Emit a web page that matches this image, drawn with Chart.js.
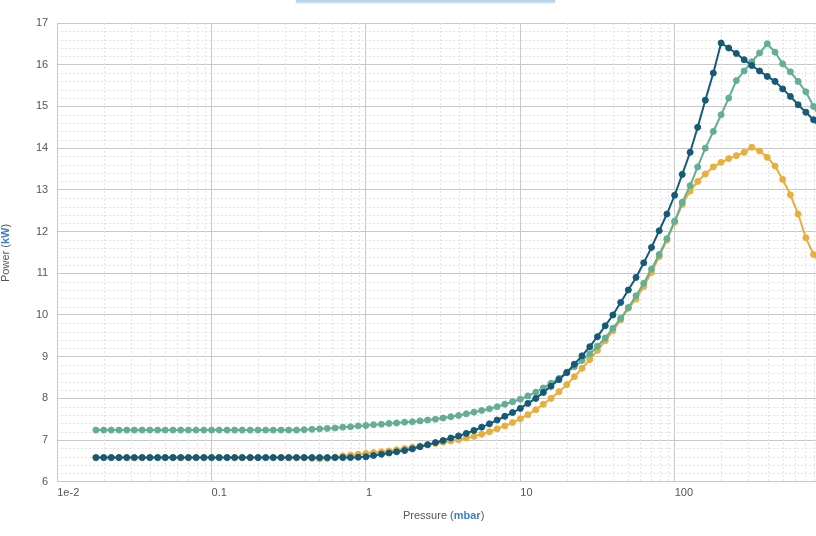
<!DOCTYPE html>
<html>
<head>
<meta charset="utf-8">
<script src="https://cdn.jsdelivr.net/npm/chart.js@4.4.0/dist/chart.umd.min.js"></script>
<style>
  html, body { margin: 0; padding: 0; background: #fff; overflow: hidden; }
  #wrap { position: absolute; left: 0; top: 0; width: 840px; height: 536px; }
  #bar { position: absolute; left: 296px; top: 0; width: 259px; height: 2px; background: #b7d6f0; box-shadow: 0 1px 2px rgba(90,150,210,0.45); }
</style>
</head>
<body>
<div id="wrap"><canvas id="powerChart" width="840" height="536"></canvas></div>
<div id="bar"></div>
<script>
// pressure in mbar
var pressure = [
    0.0178, 0.02, 0.0224, 0.0251, 0.0282, 0.0316, 0.0355, 0.0398, 0.0447, 0.0501,
    0.0562, 0.0631, 0.0708, 0.0794, 0.0891, 0.1, 0.112, 0.126, 0.141, 0.158,
    0.178, 0.2, 0.224, 0.251, 0.282, 0.316, 0.355, 0.398, 0.447, 0.501,
    0.562, 0.631, 0.708, 0.794, 0.891, 1, 1.12, 1.26, 1.41, 1.58,
    1.78, 2, 2.24, 2.51, 2.82, 3.16, 3.55, 3.98, 4.47, 5.01,
    5.62, 6.31, 7.08, 7.94, 8.91, 10, 11.2, 12.6, 14.1, 15.8,
    17.8, 20, 22.4, 25.1, 28.2, 31.6, 35.5, 39.8, 44.7, 50.1,
    56.2, 63.1, 70.8, 79.4, 89.1, 100, 112, 126, 141, 158,
    178, 200, 224, 251, 282, 316, 355, 398, 447, 501,
    562, 631, 708, 794, 891
];

// power in kW
var pumpBlue = [
    6.58, 6.58, 6.58, 6.58, 6.58, 6.58, 6.58, 6.58, 6.58, 6.58,
    6.58, 6.58, 6.58, 6.58, 6.58, 6.58, 6.58, 6.58, 6.58, 6.58,
    6.58, 6.58, 6.58, 6.58, 6.58, 6.58, 6.58, 6.58, 6.58, 6.58,
    6.58, 6.58, 6.58, 6.58, 6.59, 6.60, 6.63, 6.66, 6.69, 6.72,
    6.75, 6.79, 6.84, 6.89, 6.94, 6.99, 7.05, 7.10, 7.16, 7.23,
    7.31, 7.39, 7.48, 7.57, 7.66, 7.76, 7.88, 8.00, 8.14, 8.29,
    8.45, 8.62, 8.82, 9.02, 9.24, 9.48, 9.74, 10.0, 10.3, 10.6,
    10.9, 11.25, 11.62, 12.02, 12.42, 12.87, 13.37, 13.9, 14.5, 15.15,
    15.8, 16.52, 16.4, 16.27, 16.12, 15.98, 15.85, 15.72, 15.6, 15.42,
    15.24, 15.04, 14.86, 14.68, 14.45
];

var pumpTeal = [
    7.24, 7.24, 7.24, 7.24, 7.24, 7.24, 7.24, 7.24, 7.24, 7.24,
    7.24, 7.24, 7.24, 7.24, 7.24, 7.24, 7.24, 7.24, 7.24, 7.24,
    7.24, 7.24, 7.24, 7.24, 7.24, 7.24, 7.24, 7.25, 7.26, 7.27,
    7.28, 7.29, 7.31, 7.32, 7.34, 7.35, 7.37, 7.38, 7.40, 7.41,
    7.43, 7.44, 7.46, 7.48, 7.50, 7.53, 7.56, 7.59, 7.63, 7.67,
    7.71, 7.75, 7.80, 7.86, 7.92, 7.98, 8.06, 8.15, 8.25, 8.36,
    8.48, 8.62, 8.76, 8.91, 9.07, 9.25, 9.45, 9.68, 9.92, 10.18,
    10.46, 10.76, 11.1, 11.45, 11.83, 12.25, 12.7, 13.1, 13.55, 14.0,
    14.4, 14.8, 15.2, 15.62, 15.85, 16.07, 16.28, 16.5, 16.3, 16.02,
    15.83, 15.6, 15.35, 15.0, 14.7
];

var pumpOrange = [
    6.58, 6.58, 6.58, 6.58, 6.58, 6.58, 6.58, 6.58, 6.58, 6.58,
    6.58, 6.58, 6.58, 6.58, 6.58, 6.58, 6.58, 6.58, 6.58, 6.58,
    6.58, 6.58, 6.58, 6.58, 6.58, 6.58, 6.58, 6.58, 6.56, 6.55,
    6.56, 6.59, 6.62, 6.64, 6.66, 6.68, 6.70, 6.72, 6.74, 6.77,
    6.80, 6.83, 6.86, 6.89, 6.92, 6.95, 6.98, 7.01, 7.05, 7.09,
    7.14, 7.20, 7.27, 7.34, 7.42, 7.51, 7.61, 7.73, 7.86, 8.00,
    8.16, 8.33, 8.52, 8.72, 8.93, 9.15, 9.38, 9.62, 9.88, 10.16,
    10.38, 10.68, 11.02, 11.4, 11.8, 12.22, 12.65, 12.97, 13.2, 13.38,
    13.55, 13.66, 13.75, 13.82, 13.9, 14.02, 13.93, 13.78, 13.57, 13.25,
    12.88, 12.42, 11.85, 11.45, 11.2
];

var xTickLabels = { "0.01": "1e-2", "0.1": "0.1", "1": "1", "10": "10", "100": "100" };

function toPoints(values) {
    return pressure.map(function (p, i) { return { x: p, y: values[i] }; });
}

function isDecade(v) {
    var l = Math.log10(v);
    return Math.abs(l - Math.round(l)) < 1e-6;
}

// dotted minor grid + axis titles with the coloured unit
var extras = {
    id: "extras",
    beforeDatasetsDraw: function (chart) {
        var ctx = chart.ctx, a = chart.chartArea, x = chart.scales.x, y = chart.scales.y;
        ctx.save();
        ctx.strokeStyle = "#e2e2e2";
        ctx.lineWidth = 1;
        ctx.setLineDash([2, 2]);
        ctx.beginPath();
        for (var e = -2; e < 3; e++) {
            for (var m = 2; m < 10; m++) {
                var px = Math.round(x.getPixelForValue(m * Math.pow(10, e))) + 0.5;
                if (px >= a.right) continue;
                ctx.moveTo(px, a.top);
                ctx.lineTo(px, a.bottom);
            }
        }
        for (var v = 6; v < 17; v++) {
            for (var s = 1; s < 5; s++) {
                var py = Math.round(y.getPixelForValue(v + s * 0.2)) + 0.5;
                ctx.moveTo(a.left, py);
                ctx.lineTo(a.right, py);
            }
        }
        ctx.stroke();
        ctx.restore();
    },
    afterDraw: function (chart) {
        var ctx = chart.ctx;
        ctx.save();
        ctx.textBaseline = "middle";
        ctx.textAlign = "left";
        var parts = [["Pressure (", "#555", ""], ["mbar", "#3f82c4", "bold "], [")", "#555", ""]];
        var cx = 403;
        parts.forEach(function (p) {
            ctx.font = p[2] + "11px 'Liberation Sans', Arial, sans-serif";
            ctx.fillStyle = p[1];
            ctx.fillText(p[0], cx, 516);
            cx += ctx.measureText(p[0]).width;
        });
        ctx.translate(6, 282);
        ctx.rotate(-Math.PI / 2);
        var parts2 = [["Power (", "#555", ""], ["kW", "#3f82c4", "bold "], [")", "#555", ""]];
        var cy = 0;
        parts2.forEach(function (p) {
            ctx.font = p[2] + "11px 'Liberation Sans', Arial, sans-serif";
            ctx.fillStyle = p[1];
            ctx.fillText(p[0], cy, 0);
            cy += ctx.measureText(p[0]).width;
        });
        ctx.restore();
    }
};

var ctx = document.getElementById("powerChart").getContext("2d");

var powerChart = new Chart(ctx, {
    type: "line",
    data: {
        datasets: [
            {
                label: "Pump A",
                data: toPoints(pumpBlue),
                borderColor: "#155a78",
                backgroundColor: "#155a78",
                borderWidth: 2,
                pointRadius: 3,
                pointBorderWidth: 1,
            },
            {
                label: "Pump B",
                data: toPoints(pumpTeal),
                borderColor: "#63ae95",
                backgroundColor: "#63ae95",
                borderWidth: 2,
                pointRadius: 3,
                pointBorderWidth: 1,
            },
            {
                label: "Pump C",
                data: toPoints(pumpOrange),
                borderColor: "#e9ae3d",
                backgroundColor: "#e9ae3d",
                borderWidth: 2,
                pointRadius: 3,
                pointBorderWidth: 1,
            },
        ],
    },
    options: {
        responsive: false,
        animation: false,
        layout: { padding: { left: 27, top: 23, right: 11, bottom: 31 } },
        plugins: { legend: { display: false }, tooltip: { enabled: false } },
        scales: {
            x: {
                type: "logarithmic",
                min: 0.01,
                max: 1000,
                border: { color: "#c8c8c8" },
                grid: {
                    drawTicks: false,
                    color: function (c) { return isDecade(c.tick.value) ? "#c8c8c8" : "rgba(0,0,0,0)"; },
                },
                ticks: {
                    autoSkip: false,
                    maxRotation: 0,
                    align: "start",
                    padding: 5,
                    color: "#555",
                    font: { size: 11, family: "'Liberation Sans', Arial, sans-serif" },
                    callback: function (v) {
                        if (!isDecade(v)) return "";
                        var key = String(Math.pow(10, Math.round(Math.log10(v))));
                        return xTickLabels[key] || "";
                    },
                },
            },
            y: {
                min: 6,
                max: 17,
                border: { color: "#c8c8c8" },
                grid: { drawTicks: false, color: "#c8c8c8" },
                ticks: {
                    stepSize: 1,
                    padding: 9,
                    color: "#555",
                    font: { size: 11, family: "'Liberation Sans', Arial, sans-serif" },
                },
            },
        },
    },
    plugins: [extras],
});
</script>
</body>
</html>
